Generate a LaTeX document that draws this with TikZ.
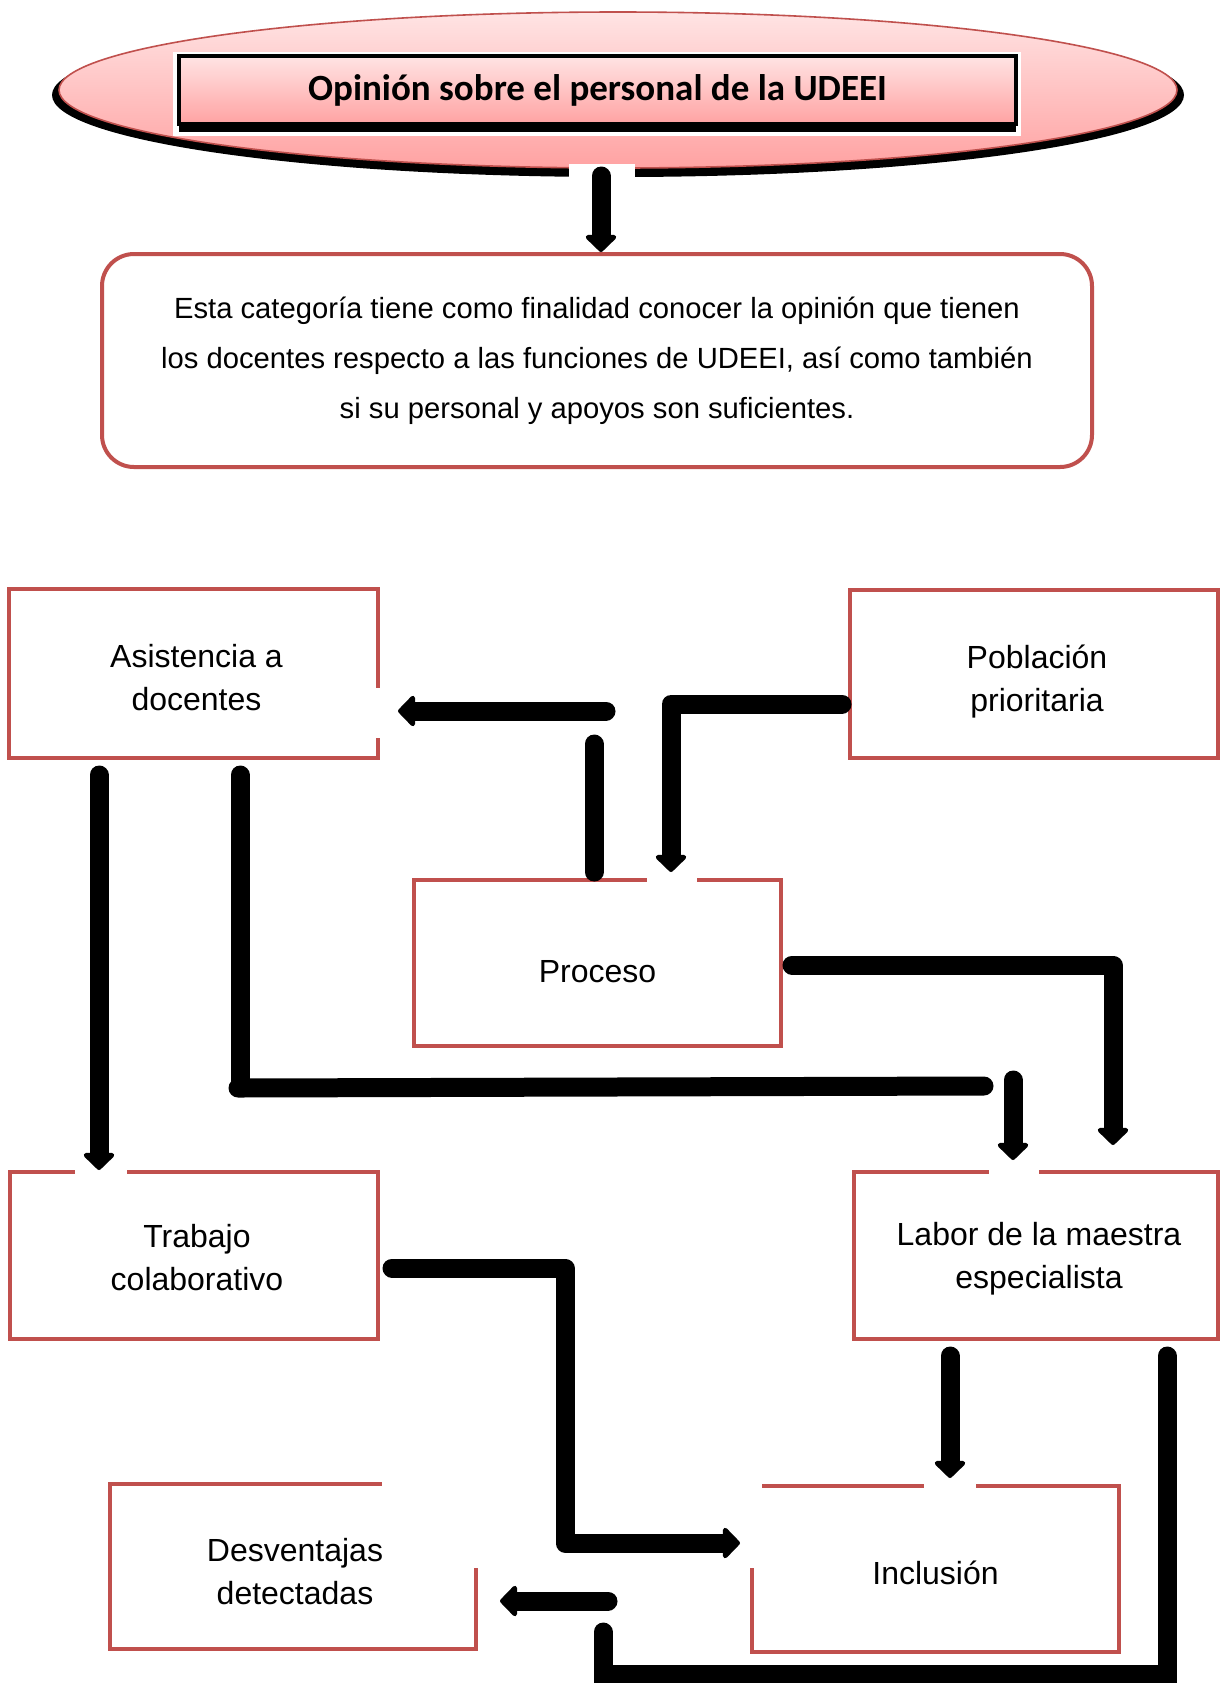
\documentclass[tikz,border=0pt]{standalone}
\usepackage{fontspec}
\setmainfont{Liberation Sans}
\newfontfamily\titlefont{Carlito}
\usetikzlibrary{arrows.meta,shapes.geometric,shadows,calc}
\definecolor{boxred}{HTML}{C0504D}
\definecolor{pinkA}{HTML}{FFE4E4}
\definecolor{pinkB}{HTML}{FFA2A2}
\begin{document}
\begin{tikzpicture}[x=0.5pt,y=-0.5pt,
  box/.style={draw=boxred, line width=2pt, inner sep=0pt},
  boxtext/.style={align=center, inner sep=0pt, font=\fontsize{16}{21.5}\selectfont},
  conn/.style={line width=9.5pt, line cap=round, line join=round},
  arrowconn/.style={-{Triangle[round,length=9pt,width=18pt]}},
  mask/.style={fill=white, draw=none}]
\useasboundingbox (0,0) rectangle (1221,1683);
\fill[white] (0,0) rectangle (1221,1683);

% header ellipse
\node (topshadow) [ellipse, fill=black, inner sep=0pt, minimum width=566pt, minimum height=82pt] at (618,95) {};
\node (topell) [ellipse, top color=pinkA, bottom color=pinkB, draw=boxred, line width=0.8pt, inner sep=0pt, minimum width=559pt, minimum height=78pt] at (618,90) {};
\fill[white] (173,52) rectangle (1021,136);
\node (title) [draw=black, line width=2pt, top color=pinkA, bottom color=pinkB, inner sep=0pt,
  minimum width=418.5pt, minimum height=34pt,
  drop shadow={shadow xshift=0pt, shadow yshift=-4pt, fill=black, opacity=1},
  font=\titlefont\bfseries\fontsize{18.5}{22}\selectfont] at (597.5,90) {Opinión sobre el personal de la UDEEI};
\fill[white] (569,164) rectangle (635,178);

% description
\node (desc) [draw=boxred, line width=2pt, rounded corners=16pt, minimum width=495pt, minimum height=106.5pt,
  align=center, font=\fontsize{14.6}{25}\selectfont] at (597,360.5)
  {Esta categoría tiene como finalidad conocer la opinión que tienen\\los docentes respecto a las funciones de UDEEI, así como también\\si su personal y apoyos son suficientes.};

% boxes
\node (asis) [box, minimum width=184.5pt, minimum height=84.5pt] at (193.5,673.5) {};
\node (pobl) [box, minimum width=184pt, minimum height=84pt] at (1034,674) {};
\node (proc) [box, minimum width=183.5pt, minimum height=83pt] at (597.5,963) {};
\node (trab) [box, minimum width=184pt, minimum height=83.5pt] at (194,1255.5) {};
\node (labor) [box, minimum width=182pt, minimum height=83.5pt] at (1036,1255.5) {};
\node (desv) [box, minimum width=183pt, minimum height=82.5pt] at (293,1566.5) {};
\node (incl) [box, minimum width=183.5pt, minimum height=83pt] at (935.5,1569) {};

\node (asist) [boxtext] at ($(asis.center)+(3,4.5)$) {Asistencia a\\docentes};
\node (poblt) [boxtext] at ($(pobl.center)+(3,7.5)$) {Población\\prioritaria};
\node (proct) [boxtext] at ($(proc.center)+(0,8.5)$) {Proceso};
\node (trabt) [boxtext] at ($(trab.center)+(3,2.5)$) {Trabajo\\colaborativo};
\node (labort) [boxtext] at ($(labor.center)+(3,3)$) {Labor de la maestra\\especialista};
\node (desvt) [boxtext] at ($(desv.center)+(2,5)$) {Desventajas\\detectadas};
\node (inclt) [boxtext] at ($(incl.center)+(0,4)$) {Inclusión};

% gaps in borders
\fill[mask] (372,688) rectangle (385,738);
\fill[mask] (647,873) rectangle (697,887);
\fill[mask] (75,1165) rectangle (127,1179);
\fill[mask] (989,1165) rectangle (1039,1179);
\fill[mask] (924,1479) rectangle (976,1493);
\fill[mask] (745,1479) rectangle (762,1568);
\fill[mask] (382,1477) rectangle (484,1568);

% connector points
\coordinate (a0) at (601,176);
\coordinate (p1) at (594,872);
\coordinate (p2) at (594,744);
\coordinate (p3) at (606,711);
\coordinate (p4) at (398,711);
\coordinate (q1) at (842,704);
\coordinate (q2) at (671,704);
\coordinate (q3) at (671,872);
\coordinate (r1) at (99,775);
\coordinate (r2) at (99,1170);
\coordinate (s1) at (240,775);
\coordinate (s2) at (240,1080);
\coordinate (s3) at (238,1088);
\coordinate (s4) at (984,1086);
\coordinate (s5) at (1013,1080);
\coordinate (s6) at (1013,1160);
\coordinate (t1) at (792,965);
\coordinate (t2) at (1113,965);
\coordinate (t3) at (1113,1145);
\coordinate (u1) at (392,1268);
\coordinate (u2) at (565,1268);
\coordinate (u3) at (565,1543);
\coordinate (u4) at (740,1543);
\coordinate (v1) at (950,1356);
\coordinate (v2) at (950,1478);
\coordinate (w1) at (1167,1356);
\coordinate (w2) at (1167,1700);
\coordinate (w3) at (612,1674);
\coordinate (w4) at (1162,1674);
\coordinate (w5) at (603,1632);
\coordinate (w6) at (603,1700);
\coordinate (w7) at (608,1601);
\coordinate (w8) at (500,1601);

% connectors
\draw[conn, arrowconn] (a0) -- (a0 |- desc.north);
\draw[conn] (p1) -- (p2);
\draw[conn, arrowconn] (p3) -- (p4);
\draw[conn, arrowconn] (q1) -- (q2) -- (q3);
\draw[conn, arrowconn] (r1) -- (r2);
\draw[conn] (s1) -- (s2);
\draw[conn] (s3) -- (s4);
\draw[conn, arrowconn] (s5) -- (s6);
\draw[conn, arrowconn] (t1) -- (t2) -- (t3);
\draw[conn, arrowconn] (u1) -- (u2) -- (u3) -- (u4);
\draw[conn, arrowconn] (v1) -- (v2);
\draw[conn] (w1) -- (w2);
\draw[conn] (w3) -- (w4);
\draw[conn] (w5) -- (w6);
\draw[conn, arrowconn] (w7) -- (w8);
\end{tikzpicture}
\end{document}
